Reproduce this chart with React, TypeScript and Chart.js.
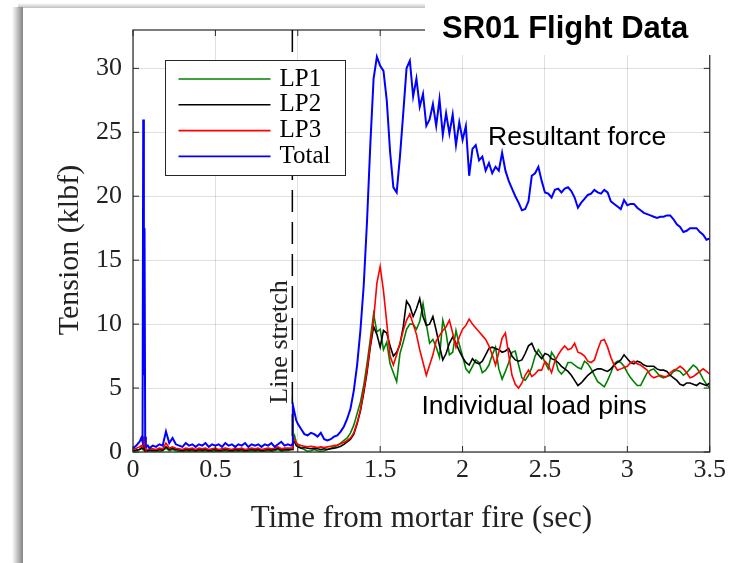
import { useEffect, useRef } from "react";
import { Chart, registerables } from "chart.js";

Chart.register(...registerables);

// Sample times (sec from mortar fire)
const timeSec = [
  0, 0.02, 0.04, 0.05, 0.058, 0.062, 0.066, 0.07, 0.074, 0.078, 0.082, 0.09, 0.1,
  0.12, 0.14, 0.16, 0.18, 0.2, 0.22, 0.24, 0.26, 0.28, 0.3, 0.32, 0.34, 0.36, 0.38, 0.4,
  0.42, 0.44, 0.46, 0.48, 0.5, 0.52, 0.54, 0.56, 0.58, 0.6, 0.62, 0.64, 0.66, 0.68, 0.7,
  0.72, 0.74, 0.76, 0.78, 0.8, 0.82, 0.84, 0.86, 0.88, 0.9, 0.92, 0.94, 0.96,
  0.966, 0.97, 0.98, 0.99,
  1.0, 1.02, 1.04, 1.06, 1.08, 1.1, 1.12, 1.14, 1.16, 1.18,
  1.2, 1.22, 1.24, 1.26, 1.28, 1.3, 1.32, 1.34, 1.36, 1.38,
  1.4, 1.42, 1.44, 1.46, 1.48, 1.5, 1.52, 1.54, 1.56, 1.58,
  1.6, 1.62, 1.64, 1.66, 1.68, 1.7, 1.72, 1.74, 1.76, 1.78,
  1.8, 1.82, 1.84, 1.86, 1.88, 1.9, 1.92, 1.94, 1.96, 1.98,
  2.0, 2.02, 2.04, 2.06, 2.08, 2.1, 2.12, 2.14, 2.16, 2.18,
  2.2, 2.22, 2.24, 2.26, 2.28, 2.3, 2.32, 2.34, 2.36, 2.38,
  2.4, 2.42, 2.44, 2.46, 2.48, 2.5, 2.52, 2.54, 2.56, 2.58,
  2.6, 2.62, 2.64, 2.66, 2.68, 2.7, 2.72, 2.74, 2.76, 2.78,
  2.8, 2.82, 2.84, 2.86, 2.88, 2.9, 2.92, 2.94, 2.96, 2.98,
  3.0, 3.02, 3.04, 3.06, 3.08, 3.1, 3.12, 3.14, 3.16, 3.18,
  3.2, 3.22, 3.24, 3.26, 3.28, 3.3, 3.32, 3.34, 3.36, 3.38,
  3.4, 3.42, 3.44, 3.46, 3.48, 3.5,
];

// LP1 (green) tension, klbf
const lp1 = [
  0.05, 0.1, 0.2, 0.3, 0.2, 0.5, 0.3, 0.4, 0.1, 0.05, 0.05, 0.05, 0.1,
  0.05, 0.1, 0.05, 0.1, 0.3, 0.1, 0.2, 0.1, 0.05, 0.0, 0.1, 0.05, 0.1, 0.0, 0.1,
  0.05, 0.1, 0.0, 0.05, 0.1, 0.0, 0.05, 0.1, 0.05, 0.0, 0.1, 0.05, 0.1, 0.0, 0.05,
  0.1, 0.05, 0.1, 0.0, 0.05, 0.1, 0.05, 0.1, 0.2, 0.05, 0.1, 0.1, 0.2,
  0.2, 1.0, 1.3, 0.8,
  0.5, 0.3, 0.2, 0.05, 0.1, 0.2, 0.1, 0.05, 0.1, 0.2,
  0.3, 0.4, 0.5, 0.7, 0.9, 1.1, 1.5, 2.1, 3.0, 3.9,
  5.2, 6.9, 8.8, 10.8, 9.4, 9.6, 8.0, 8.6, 6.9, 6.2,
  5.5, 7.7, 8.6, 9.6, 10.0, 10.0, 9.6, 10.2, 11.6, 10.0,
  8.5, 8.8, 8.2, 7.4, 10.3, 9.3, 7.6, 7.8, 9.5, 8.4,
  7.5, 6.5, 6.2, 6.7, 7.2, 7.0, 6.2, 6.4, 6.8, 7.6,
  8.2, 6.5, 5.7, 6.3, 7.0, 7.8, 7.9, 6.8, 5.8, 5.6,
  6.0, 6.6, 7.5, 8.0, 7.6, 7.0, 6.5, 7.8, 7.4, 6.4,
  6.1, 6.4, 7.0, 7.0, 6.8, 6.6, 6.5, 7.1, 6.9, 6.5,
  6.0, 5.5, 5.3, 5.1, 5.6, 6.2, 6.9, 7.1, 7.0, 6.7,
  6.2, 5.8, 5.5, 5.2, 5.2, 5.7, 6.2, 6.4, 6.5, 6.2,
  5.9, 5.8, 5.9, 6.0, 6.3, 6.4, 6.3, 6.0, 6.2, 6.5,
  6.8, 6.6, 6.2, 5.7, 5.3, 5.0,
];

// LP2 (black) tension, klbf
const lp2 = [
  0.1, 0.15, 0.2, 0.3, 0.3, 0.6, 0.4, 0.5, 0.2, 0.1, 0.1, 0.1, 0.15,
  0.15, 0.1, 0.2, 0.15, 0.4, 0.2, 0.3, 0.2, 0.15, 0.1, 0.2, 0.15, 0.2, 0.1, 0.2,
  0.15, 0.2, 0.1, 0.15, 0.2, 0.1, 0.15, 0.2, 0.15, 0.1, 0.2, 0.15, 0.2, 0.1, 0.15,
  0.2, 0.15, 0.2, 0.1, 0.15, 0.2, 0.15, 0.2, 0.3, 0.15, 0.2, 0.2, 0.2,
  0.2, 0.7, 0.8, 0.5,
  0.4, 0.3, 0.35, 0.3, 0.25, 0.3, 0.25, 0.2, 0.25, 0.2,
  0.25, 0.3, 0.35, 0.45, 0.6, 0.8, 1.0, 1.4, 2.2, 3.2,
  4.6, 6.2, 8.2, 9.8, 9.2, 8.2, 9.5, 9.3, 8.3, 7.5,
  7.8, 8.4, 9.8, 11.8, 11.4, 10.6, 11.2, 12.0, 10.6, 9.9,
  10.0, 10.6, 9.5, 8.3, 7.2, 7.7, 8.5, 9.0, 8.5, 7.9,
  7.4, 7.0, 6.8, 7.3, 7.0, 6.9, 7.1, 7.6, 8.1, 8.2,
  8.1, 8.0, 7.8, 7.9, 8.1, 7.5, 7.2, 7.1, 7.2, 7.7,
  8.3, 8.5, 7.9, 7.6, 7.3, 7.7, 7.6, 7.3, 7.2, 7.0,
  6.7, 6.5, 6.3, 6.0, 5.6, 5.2, 5.4, 5.7, 6.0, 6.2,
  6.4, 6.5, 6.5, 6.4, 6.3, 6.5, 6.8, 7.0, 7.2, 7.6,
  7.3, 7.0, 6.9, 7.1, 7.0, 6.8, 6.7, 6.7, 6.7, 6.5,
  6.4, 6.4, 6.3, 6.0, 5.8, 5.6, 5.3, 5.2, 5.4, 5.4,
  5.3, 5.2, 5.4, 5.3, 5.2, 5.4,
];

// LP3 (red) tension, klbf
const lp3 = [
  0.2, 0.3, 0.4, 0.5, 0.4, 1.2, 0.7, 0.9, 0.4, 0.2, 0.2, 0.2, 0.25,
  0.25, 0.2, 0.3, 0.25, 0.7, 0.3, 0.4, 0.3, 0.25, 0.2, 0.3, 0.25, 0.3, 0.2, 0.3,
  0.25, 0.3, 0.2, 0.25, 0.3, 0.2, 0.25, 0.3, 0.25, 0.2, 0.3, 0.25, 0.3, 0.2, 0.25,
  0.3, 0.25, 0.3, 0.2, 0.25, 0.3, 0.25, 0.3, 0.4, 0.25, 0.3, 0.3, 0.3,
  0.3, 1.1, 1.0, 0.7,
  0.6, 0.5, 0.45, 0.4, 0.45, 0.4, 0.35, 0.4, 0.35, 0.4,
  0.45, 0.5, 0.55, 0.65, 0.75, 0.9, 1.1, 1.5, 2.3, 3.3,
  4.8, 6.4, 8.4, 10.3, 13.2, 14.5, 12.6, 10.1, 7.5, 6.8,
  7.6, 8.5, 9.5, 10.3, 10.8, 10.0, 9.2, 8.0, 7.0, 6.0,
  6.8, 7.6, 8.7, 9.1, 9.5, 9.8, 10.3, 9.3, 8.2, 9.0,
  9.6, 9.9, 10.4, 10.0, 9.7, 9.4, 9.1, 8.8, 8.3, 7.6,
  6.8, 7.8, 8.9, 9.3, 7.6, 6.0, 5.3, 5.0, 5.4, 6.0,
  6.4, 5.9, 6.1, 6.4, 6.4, 7.1, 6.8, 6.2, 7.1, 7.6,
  8.0, 8.3, 8.0, 8.1, 8.5, 7.8, 7.7, 7.5, 7.1, 7.0,
  7.2, 8.0, 8.7, 8.8, 8.2, 7.4, 6.8, 6.4, 6.5, 6.6,
  6.7, 7.0, 7.1, 6.9, 6.8, 6.6, 6.4, 6.0, 5.8, 5.9,
  6.0, 5.9, 5.9, 6.2, 6.4, 6.5, 6.7, 6.5, 6.2, 5.8,
  5.9, 6.1, 6.3, 6.5, 6.3, 6.1,
];

// Total / resultant (blue) tension, klbf
const total = [
  0.3, 0.5, 0.8, 1.1, 0.8, 26.0, 6.0, 17.5, 1.2, 0.6, 0.4, 0.5, 0.3,
  0.5, 0.4, 0.6, 0.5, 1.6, 0.7, 1.1, 0.6, 0.5, 0.4, 0.7, 0.5, 0.6, 0.4, 0.6,
  0.5, 0.7, 0.4, 0.6, 0.5, 0.6, 0.4, 0.7, 0.5, 0.6, 0.4, 0.6, 0.5, 0.7, 0.4,
  0.6, 0.5, 0.6, 0.4, 0.6, 0.5, 0.7, 0.4, 0.6, 0.8, 0.5, 0.6, 0.5,
  0.6, 3.7, 3.1, 2.5,
  2.2, 1.8, 1.4, 1.3, 1.5, 1.4, 1.2, 1.5, 1.0, 0.9,
  1.0, 1.2, 1.3, 1.6, 2.0, 2.6, 3.4, 4.8, 6.8, 9.5,
  13.0, 18.0, 24.0, 29.2, 30.9, 30.2, 29.8, 27.5, 23.5, 20.7,
  20.3, 23.1, 26.5, 30.0, 30.6, 27.8, 29.2, 27.0, 28.0, 25.5,
  26.0, 27.2, 25.5, 27.6, 24.8, 26.5, 24.9, 26.4, 24.0, 25.8,
  24.4, 25.5, 21.6, 23.7, 24.0, 22.8, 23.1, 22.0, 22.6, 21.8,
  22.3, 22.0, 23.4, 22.0, 21.2, 20.6, 20.0, 19.5, 18.9, 19.0,
  19.6, 21.6, 21.8, 22.3, 21.2, 20.3, 20.2, 19.9, 20.5, 20.6,
  20.3, 20.6, 20.7, 20.4, 19.9, 19.1, 19.5, 19.8, 20.1, 20.2,
  20.5, 20.3, 20.2, 20.5, 20.3, 19.6, 19.4, 19.2, 19.0, 19.7,
  19.3, 19.4, 19.4, 19.1, 18.9, 18.7, 18.6, 18.5, 18.4, 18.3,
  18.4, 18.4, 18.5, 18.5, 18.2, 17.8, 17.6, 17.2, 17.3, 17.5,
  17.5, 17.5, 17.2, 17.0, 16.6, 16.7,
];

const seriesNames = ["LP1", "LP2", "LP3", "Total"];
const seriesColors = ["#008000", "#000000", "#ff0000", "#0000ff"];
const xTicks = [0, 0.5, 1, 1.5, 2, 2.5, 3, 3.5];
const yTicks = [0, 5, 10, 15, 20, 25, 30];

const titleText = "SR01 Flight Data";
const xTitle = "Time from mortar fire (sec)";
const yTitle = "Tension (klbf)";

const SERIF = "'Liberation Serif', 'Times New Roman', serif";
const SANS = "'Liberation Sans', Arial, sans-serif";
const INK = "#222222";

const figurePlugin = {
  id: "matlabFigure",
  beforeDraw(chart: any) {
    const ctx = chart.ctx;
    ctx.save();
    ctx.fillStyle = "#ffffff";
    ctx.fillRect(0, 0, chart.width, chart.height);
    const g = ctx.createLinearGradient(12, 0, 23, 0);
    g.addColorStop(0, "rgba(110,110,110,0)");
    g.addColorStop(1, "rgba(110,110,110,0.85)");
    ctx.fillStyle = g;
    ctx.fillRect(12, 7, 11, chart.height - 7);
    const g2 = ctx.createLinearGradient(0, 3, 0, 8);
    g2.addColorStop(0, "rgba(150,150,150,0)");
    g2.addColorStop(1, "rgba(150,150,150,0.6)");
    ctx.fillStyle = g2;
    ctx.fillRect(18, 3, 425 - 18, 5);
    ctx.restore();
  },
  afterDatasetsDraw(chart: any) {
    const ctx = chart.ctx;
    const { left, right, top, bottom } = chart.chartArea;
    const xs = chart.scales.x;
    const ys = chart.scales.y;
    ctx.save();
    // frame
    ctx.strokeStyle = "#262626";
    ctx.lineWidth = 1.2;
    ctx.strokeRect(left, top, right - left, bottom - top);
    // inner ticks
    ctx.lineWidth = 1;
    ctx.beginPath();
    for (const v of xTicks) {
      const px = xs.getPixelForValue(v);
      ctx.moveTo(px, bottom);
      ctx.lineTo(px, bottom - 6);
      ctx.moveTo(px, top);
      ctx.lineTo(px, top + 6);
    }
    for (const v of yTicks) {
      const py = ys.getPixelForValue(v);
      ctx.moveTo(left, py);
      ctx.lineTo(left + 6, py);
      ctx.moveTo(right, py);
      ctx.lineTo(right - 6, py);
    }
    ctx.stroke();
    // y axis title (placed like MATLAB's ylabel)
    ctx.save();
    ctx.translate(78, 250);
    ctx.rotate(-Math.PI / 2);
    ctx.textAlign = "center";
    ctx.textBaseline = "alphabetic";
    ctx.font = `30px ${SERIF}`;
    ctx.fillStyle = INK;
    ctx.fillText(yTitle, 0, 0);
    ctx.restore();
    // line stretch marker
    ctx.strokeStyle = "#000000";
    ctx.lineWidth = 1.5;
    ctx.setLineDash([22, 10]);
    const lx = xs.getPixelForValue(0.967);
    ctx.beginPath();
    ctx.moveTo(lx, top);
    ctx.lineTo(lx, ys.getPixelForValue(0.6));
    ctx.stroke();
    ctx.setLineDash([]);
    // annotations
    ctx.fillStyle = "#000000";
    ctx.textBaseline = "alphabetic";
    ctx.textAlign = "left";
    ctx.font = `26.5px ${SANS}`;
    ctx.fillText("Resultant force", xs.getPixelForValue(2.155), ys.getPixelForValue(24.0));
    ctx.fillText("Individual load pins", xs.getPixelForValue(1.75), ys.getPixelForValue(3.0));
    ctx.save();
    ctx.translate(xs.getPixelForValue(0.932), ys.getPixelForValue(8.6));
    ctx.rotate(-Math.PI / 2);
    ctx.textAlign = "center";
    ctx.font = `26px ${SERIF}`;
    ctx.fillStyle = INK;
    ctx.fillText("Line stretch", 0, 0);
    ctx.restore();
    // legend
    const bx = left + 32.5;
    const by = top + 30.5;
    ctx.fillStyle = "#ffffff";
    ctx.fillRect(bx, by, 180, 115);
    ctx.strokeStyle = "#262626";
    ctx.lineWidth = 1;
    ctx.strokeRect(bx, by, 180, 115);
    ctx.font = `25px ${SERIF}`;
    ctx.textBaseline = "middle";
    ctx.textAlign = "left";
    seriesNames.forEach((name, i) => {
      const ry = by + 18.5 + i * 25.8;
      ctx.strokeStyle = seriesColors[i];
      ctx.lineWidth = 1.6;
      ctx.beginPath();
      ctx.moveTo(bx + 13, ry);
      ctx.lineTo(bx + 105, ry);
      ctx.stroke();
      ctx.fillStyle = "#000000";
      ctx.fillText(name, bx + 114, ry);
    });
    ctx.restore();
  },
  afterDraw(chart: any) {
    const ctx = chart.ctx;
    ctx.save();
    ctx.fillStyle = "#ffffff";
    ctx.fillRect(425, 0, chart.width - 425, 55);
    ctx.fillStyle = "#000000";
    ctx.font = `bold 31px ${SANS}`;
    ctx.textBaseline = "alphabetic";
    ctx.textAlign = "left";
    ctx.fillText(titleText, 442, 38);
    ctx.restore();
  },
};

const seriesValues = [lp1, lp2, lp3, total];

export default function App() {
  const ref = useRef<HTMLCanvasElement | null>(null);
  useEffect(() => {
    if (!ref.current) return;
    const datasets = seriesValues.map((vals, i) => ({
      label: seriesNames[i],
      data: timeSec.map((t, k) => ({ x: t, y: vals[k] })),
      borderColor: seriesColors[i],
      backgroundColor: seriesColors[i],
      borderWidth: i === 3 ? 2 : 1.6,
      pointRadius: 0,
      tension: 0,
      fill: false,
      order: 3 - i,
    }));
    const chart = new Chart(ref.current, {
      type: "line",
      data: { datasets },
      options: {
        animation: false,
        responsive: false,
        devicePixelRatio: 1,
        layout: { padding: { left: 0, right: 16, top: 30, bottom: 0 } },
        plugins: {
          legend: { display: false },
          tooltip: { enabled: false },
          title: { display: false },
        },
        scales: {
          x: {
            type: "linear",
            min: 0,
            max: 3.5,
            afterBuildTicks: (s: any) => {
              s.ticks = xTicks.map((v) => ({ value: v }));
            },
            afterFit: (s: any) => {
              s.height = 111;
            },
            grid: { color: "rgba(38,38,38,0.15)", drawTicks: false, lineWidth: 1 },
            border: { display: false },
            ticks: {
              font: { family: SERIF, size: 26 },
              color: INK,
              padding: 3,
              maxRotation: 0,
              autoSkip: false,
              callback: (v: any) => String(v),
            },
            title: {
              display: true,
              text: xTitle,
              font: { family: SERIF, size: 31 },
              color: INK,
              padding: { top: 0, bottom: 26 },
            },
          },
          y: {
            type: "linear",
            min: 0,
            max: 33,
            afterBuildTicks: (s: any) => {
              s.ticks = yTicks.map((v) => ({ value: v }));
            },
            afterFit: (s: any) => {
              s.width = 133;
            },
            grid: { color: "rgba(38,38,38,0.15)", drawTicks: false, lineWidth: 1 },
            border: { display: false },
            ticks: {
              font: { family: SERIF, size: 26 },
              color: INK,
              padding: 11,
              autoSkip: false,
              callback: (v: any) => String(v),
            },
            title: { display: false, text: yTitle },
          },
        },
      },
      plugins: [figurePlugin],
    });
    return () => chart.destroy();
  }, []);
  return (
    <canvas
      ref={ref}
      width={729}
      height={563}
      style={{ position: "absolute", left: 0, top: 0 }}
    />
  );
}
